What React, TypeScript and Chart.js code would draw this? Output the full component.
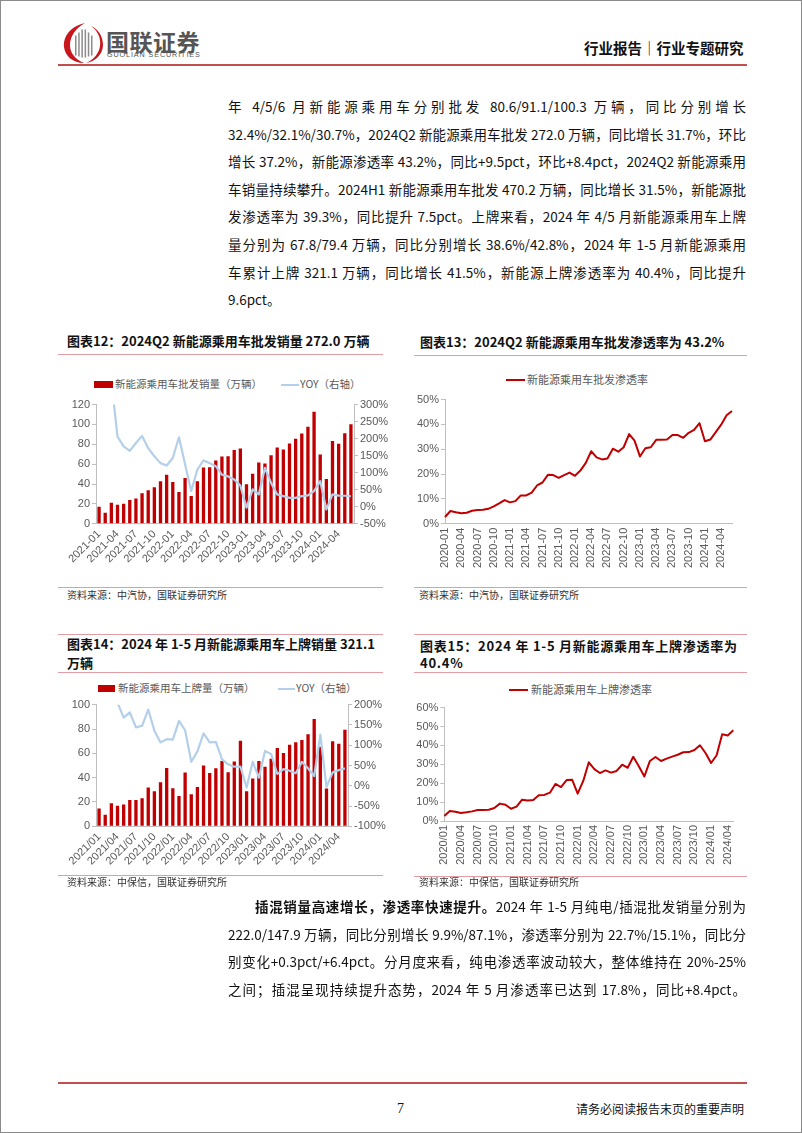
import React, { useEffect, useRef } from "react";
import { Chart, registerables } from "chart.js";

Chart.register(...registerables);

const LATIN = '"Liberation Sans", Arial, sans-serif';
const CJK = '"Noto Sans CJK SC", "Noto Sans", sans-serif';
const AXIS_GRAY = "#BFBFBF";
const TICK_COLOR = "#595959";
const BAR_RED = "#C00000";
const LINE_RED = "#C00000";
const YOY_BLUE = "#B4CFE9";
const RULE_PINK = "#E29CA3";
const HEAD_RED = "#C0504D";

function monthLabels(startYear: number, startMonth: number, count: number, sep: string): string[] {
  const out: string[] = [];
  for (let i = 0; i < count; i++) {
    const m = startMonth - 1 + i;
    const y = startYear + Math.floor(m / 12);
    const mm = (m % 12) + 1;
    out.push(`${y}${sep}${mm < 10 ? "0" + mm : mm}`);
  }
  return out;
}

// ---- 图表12: 批发销量 (2021-01 .. 2024-06)
const wholesaleMonths = monthLabels(2021, 1, 42, "-");
const wholesaleVolume = [
  17, 11, 21, 19, 20, 24, 25.5, 30.7, 33.7, 36.7, 42.7, 49.3,
  42, 32, 46, 28, 42.7, 56.7, 57, 63.7, 67.7, 68, 74.3, 75.7,
  39.7, 50.3, 61.7, 60.7, 69, 76.7, 74.7, 80.7, 85.7, 91, 97.7, 112.7,
  69.7, 45, 83.3, 80.6, 91.1, 100.3,
];
const wholesaleYoy = [
  500, 650, 370, 206, 177, 164, 187, 208, 172, 148, 128, 121,
  143, 204, 125, 46, 109, 136, 128, 119, 94, 89, 80, 62,
  -3, 51, 36, 114, 70, 36, 31, 26, 26, 31, 33, 46,
  75, -8, 36, 32.4, 32.1, 30.7,
];

// ---- 图表13: 批发渗透率 (2020-01 .. 2024-06)
const wholesalePenMonths = monthLabels(2020, 1, 54, "-");
const wholesalePenetration = [
  2.7, 5.1, 4.6, 4.2, 4.4, 5.2, 5.5, 5.6, 6.0, 7.0, 8.2, 9.5,
  8.6, 9.1, 11.4, 11.4, 12.5, 15.4, 16.6, 19.7, 19.6, 18.5, 19.6, 20.6,
  19.3, 21.4, 24.5, 29.2, 26.7, 25.9, 26.3, 30.2, 29.0, 30.8, 36.1, 33.5,
  27.1, 30.4, 30.8, 33.8, 33.8, 33.9, 35.7, 35.7, 34.6, 36.6, 37.8, 40.5,
  33.2, 33.9, 36.9, 39.9, 43.7, 45.4,
];

// ---- 图表14: 上牌量 (2021/01 .. 2024/05)
const regMonths = monthLabels(2021, 1, 41, "/");
const regVolume = [
  14.6, 9.6, 19, 16.8, 17.9, 21.7, 21.7, 23, 32, 28.8, 36.3, 48,
  31.3, 25, 44.2, 26.4, 32.4, 50, 43.9, 47.8, 53.8, 44.5, 53.3, 70.3,
  28.8, 39.3, 53.6, 48.9, 55.5, 64.3, 60.2, 67, 69.2, 70.9, 75.8, 88.2,
  65.4, 31, 70, 67.8, 79.4,
];
const regYoy = [
  380, 750, 300, 205, 168, 181, 144, 148, 188, 136, 107, 115,
  114, 160, 137, 59, 85, 129, 107, 108, 65, 53, 47, 47,
  -4, 59, 20, 86, 78, 29, 41, 37, 31, 59, 43, 24,
  126, -3, 33, 38.6, 42.8,
];

// ---- 图表15: 上牌渗透率 (2020/01 .. 2024/05)
const regPenMonths = monthLabels(2020, 1, 53, "/");
const regPenetration = [
  2.6, 5.3, 4.9, 4.2, 4.6, 5.1, 5.8, 5.8, 6.0, 6.9, 9.2, 8.6,
  6.5, 7.6, 11.3, 10.8, 11.1, 13.6, 13.8, 15.0, 19.6, 18.0, 21.7, 21.9,
  14.5, 21.2, 31.1, 27.5, 25.4, 26.8, 25.6, 26.5, 29.8, 28.2, 34.0, 29.0,
  23.6, 31.8, 33.9, 31.8, 33.0, 34.1, 35.1, 36.4, 36.5, 37.6, 40.1, 36.0,
  30.7, 34.8, 45.9, 45.3, 48.0,
];

// ---- text
const para1Lines = [
  "年 4/5/6 月新能源乘用车分别批发 80.6/91.1/100.3 万辆，同比分别增长",
  "32.4%/32.1%/30.7%，2024Q2 新能源乘用车批发 272.0 万辆，同比增长 31.7%，环比",
  "增长 37.2%，新能源渗透率 43.2%，同比+9.5pct，环比+8.4pct，2024Q2 新能源乘用",
  "车销量持续攀升。2024H1 新能源乘用车批发 470.2 万辆，同比增长 31.5%，新能源批",
  "发渗透率为 39.3%，同比提升 7.5pct。上牌来看，2024 年 4/5 月新能源乘用车上牌",
  "量分别为 67.8/79.4 万辆，同比分别增长 38.6%/42.8%，2024 年 1-5 月新能源乘用",
  "车累计上牌 321.1 万辆，同比增长 41.5%，新能源上牌渗透率为 40.4%，同比提升",
  "9.6pct。",
];
const para2Bold = "插混销量高速增长，渗透率快速提升。";
const para2Lines = [
  "2024 年 1-5 月纯电/插混批发销量分别为",
  "222.0/147.9 万辆，同比分别增长 9.9%/87.1%，渗透率分别为 22.7%/15.1%，同比分",
  "别变化+0.3pct/+6.4pct。分月度来看，纯电渗透率波动较大，整体维持在 20%-25%",
  "之间；插混呈现持续提升态势，2024 年 5 月渗透率已达到 17.8%，同比+8.4pct。",
];

type Dims = { padTop: number; padRight: number; yWidth: number; y1Width: number; xHeight: number };

const tickFont = { family: LATIN, size: 11 };

function comboConfig(
  labels: string[], bars: number[], yoy: number[],
  leftMax: number, leftStep: number, rMin: number, rMax: number, rStep: number, d: Dims
): any {
  return {
    type: "bar",
    data: {
      labels,
      datasets: [
        { type: "line", data: yoy, yAxisID: "y1", borderColor: YOY_BLUE, borderWidth: 2.2, pointRadius: 0, tension: 0, order: 0, clip: 0, borderJoinStyle: "round" },
        { type: "bar", data: bars, yAxisID: "y", backgroundColor: BAR_RED, barPercentage: 0.6, categoryPercentage: 0.9, order: 1 },
      ],
    },
    options: {
      responsive: false, animation: false, maintainAspectRatio: false,
      layout: { padding: { top: d.padTop, right: d.padRight, left: 0, bottom: 0 } },
      plugins: { legend: { display: false }, tooltip: { enabled: false }, title: { display: false } },
      scales: {
        x: {
          grid: { display: false, drawTicks: false },
          border: { display: true, color: AXIS_GRAY },
          ticks: { autoSkip: false, maxRotation: 45, minRotation: 45, padding: 4, color: TICK_COLOR, font: tickFont,
            callback: (_v: any, i: number) => (i % 3 === 0 ? labels[i] : "") },
          afterFit: (s: any) => { s.height = d.xHeight; },
        },
        y: {
          position: "left", min: 0, max: leftMax,
          ticks: { stepSize: leftStep, color: TICK_COLOR, font: tickFont, padding: 2 },
          grid: { drawOnChartArea: false, drawTicks: true, tickLength: 4, color: AXIS_GRAY },
          border: { display: true, color: AXIS_GRAY },
          afterFit: (s: any) => { s.width = d.yWidth; },
        },
        y1: {
          position: "right", min: rMin, max: rMax,
          ticks: { stepSize: rStep, color: TICK_COLOR, font: tickFont, padding: 2, callback: (v: any) => v + "%" },
          grid: { drawOnChartArea: false, drawTicks: true, tickLength: 4, color: AXIS_GRAY },
          border: { display: true, color: AXIS_GRAY },
          afterFit: (s: any) => { s.width = d.y1Width; },
        },
      },
    },
  };
}

function lineConfig(labels: string[], values: number[], yMax: number, d: Dims): any {
  return {
    type: "line",
    data: {
      labels,
      datasets: [
        { data: values, borderColor: LINE_RED, borderWidth: 2, pointRadius: 0, tension: 0, fill: false, borderJoinStyle: "round" },
      ],
    },
    options: {
      responsive: false, animation: false, maintainAspectRatio: false,
      layout: { padding: { top: d.padTop, right: d.padRight, left: 0, bottom: 0 } },
      plugins: { legend: { display: false }, tooltip: { enabled: false }, title: { display: false } },
      scales: {
        x: {
          offset: false,
          grid: { display: false, drawTicks: false },
          border: { display: true, color: AXIS_GRAY },
          ticks: { autoSkip: false, maxRotation: 90, minRotation: 90, padding: 4, color: TICK_COLOR, font: tickFont,
            callback: (_v: any, i: number) => (i % 3 === 0 ? labels[i] : "") },
          afterFit: (s: any) => { s.height = d.xHeight; },
        },
        y: {
          min: 0, max: yMax,
          ticks: { stepSize: 10, color: TICK_COLOR, font: tickFont, padding: 2, callback: (v: any) => v + "%" },
          grid: { drawOnChartArea: false, drawTicks: true, tickLength: 4, color: AXIS_GRAY },
          border: { display: true, color: AXIS_GRAY },
          afterFit: (s: any) => { s.width = d.yWidth; },
        },
      },
    },
  };
}

function ChartBox({ left, top, width, height, make }: { left: number; top: number; width: number; height: number; make: () => any }) {
  const ref = useRef<HTMLCanvasElement>(null);
  useEffect(() => {
    const chart = new Chart(ref.current as HTMLCanvasElement, make());
    return () => chart.destroy();
  }, []);
  return (
    <canvas ref={ref} width={width} height={height}
      style={{ position: "absolute", left, top, width, height, display: "block" }} />
  );
}

function Txt({ x, y, size, children, weight = 400, color = "#000", family = CJK, spacing = 0 }: any) {
  return (
    <div style={{ position: "absolute", left: x, top: y - size * 0.7, height: size * 1.4, lineHeight: `${size * 1.4}px`,
      fontSize: size, fontWeight: weight, color, fontFamily: family, whiteSpace: "nowrap", letterSpacing: spacing }}>
      {children}
    </div>
  );
}

function Rule({ x1, x2, y, color = RULE_PINK, h = 1 }: any) {
  return <div style={{ position: "absolute", left: x1, top: y, width: x2 - x1, height: h, background: color }} />;
}

function JLine({ x, y, w, children, last = false }: any) {
  return (
    <div style={{ position: "absolute", left: x, top: y - 11, width: w, height: 22, lineHeight: "22px",
      fontSize: 13.5, fontFamily: CJK, color: "#111", whiteSpace: "nowrap",
      textAlign: last ? "left" : "justify", textAlignLast: last ? "left" : "justify" } as any}>
      {children}
    </div>
  );
}

function Logo() {
  const bars = [0, 1, 2, 3, 4, 5];
  return (
    <svg style={{ position: "absolute", left: 60, top: 21 }} width="44" height="42" viewBox="0 0 44 42">
      <path d="M24 1 C10 4 2 14 3 25 C4 34 12 41 23 41 C14 37 9 31 9 23 C9 14 15 6 24 1 Z" fill="#C8161D" />
      {bars.map((i) => (
        <rect key={i} x={14 + i * 3.2} y={6 + Math.abs(2.5 - i) * 3} width={1.5} height={30 - Math.abs(2.5 - i) * 4} fill="#8C8C8C" />
      ))}
      <path d="M30 4 C37 9 40 16 39 24 C38 32 32 38 25 41 C33 40 42 33 42 23 C42 14 37 7 30 4 Z" fill="#C8161D" />
    </svg>
  );
}

export default function App() {
  const p1y0 = 105;
  const step = 27.6;
  return (
    <div style={{ position: "absolute", left: 0, top: 0, width: 802, height: 1133, background: "#fff",
      overflow: "hidden", boxSizing: "border-box", border: "1px solid #8a8a8a", fontFamily: CJK }}>
      {/* header */}
      <Logo />
      <Txt x={105} y={40} size={23} weight={700} color="#555" spacing={0.5}>国联证券</Txt>
      <Txt x={106} y={54.5} size={7.2} family={LATIN} color="#555" spacing={0.9}>GUOLIAN SECURITIES</Txt>
      <Txt x={583} y={47} size={14.5} weight={700} color="#111">行业报告｜行业专题研究</Txt>
      <Rule x1={57} x2={746} y={63} color={HEAD_RED} h={2} />

      {/* paragraph 1 */}
      {para1Lines.map((t, i) => (
        <JLine key={i} x={227} y={p1y0 + i * step} w={518} last={i === para1Lines.length - 1}>{t}</JLine>
      ))}

      {/* chart 12 */}
      <Txt x={66} y={340} size={13} weight={700} color="#111">图表12：2024Q2 新能源乘用车批发销量 272.0 万辆</Txt>
      <Rule x1={57} x2={382} y={352.5} />
      <div style={{ position: "absolute", left: 93, top: 380, width: 19, height: 7, background: BAR_RED }} />
      <Txt x={114} y={383.5} size={10.5} color="#595959">新能源乘用车批发销量（万辆）</Txt>
      <div style={{ position: "absolute", left: 280, top: 382.5, width: 18, height: 2, background: YOY_BLUE }} />
      <Txt x={299} y={383.5} size={10.5} color="#595959">YOY（右轴）</Txt>
      <ChartBox left={57} top={395} width={340} height={180}
        make={() => comboConfig(wholesaleMonths, wholesaleVolume, wholesaleYoy, 120, 20, -50, 300, 50,
          { padTop: 7.7, padRight: 0, yWidth: 38, y1Width: 44, xHeight: 52.3 })} />
      <Rule x1={57} x2={382} y={585.5} />
      <Txt x={66} y={593.5} size={10} color="#333">资料来源：中汽协，国联证券研究所</Txt>

      {/* chart 13 */}
      <Txt x={419} y={341} size={13} weight={700} color="#111">图表13：2024Q2 新能源乘用车批发渗透率为 43.2%</Txt>
      <Rule x1={413} x2={746} y={353.5} />
      <div style={{ position: "absolute", left: 505, top: 377.5, width: 19, height: 2, background: LINE_RED }} />
      <Txt x={526} y={378.5} size={11} color="#595959">新能源乘用车批发渗透率</Txt>
      <ChartBox left={405} top={390} width={345} height={185}
        make={() => lineConfig(wholesalePenMonths, wholesalePenetration, 50,
          { padTop: 8, padRight: 19, yWidth: 39, y1Width: 0, xHeight: 52.3 })} />
      <Rule x1={413} x2={746} y={585.5} />
      <Txt x={418} y={594} size={10} color="#333">资料来源：中汽协，国联证券研究所</Txt>

      {/* chart 14 */}
      <Rule x1={57} x2={382} y={632.5} />
      <Txt x={66} y={643} size={13} weight={700} color="#111">图表14：2024 年 1-5 月新能源乘用车上牌销量 321.1</Txt>
      <Txt x={66} y={662} size={13} weight={700} color="#111">万辆</Txt>
      <Rule x1={57} x2={382} y={670.5} />
      <div style={{ position: "absolute", left: 97, top: 684, width: 17, height: 7, background: BAR_RED }} />
      <Txt x={117} y={687.5} size={10.5} color="#595959">新能源乘用车上牌量（万辆）</Txt>
      <div style={{ position: "absolute", left: 277, top: 686.5, width: 17, height: 2, background: YOY_BLUE }} />
      <Txt x={295} y={687.5} size={10.5} color="#595959">YOY（右轴）</Txt>
      <ChartBox left={57} top={695} width={340} height={180}
        make={() => comboConfig(regMonths, regVolume, regYoy, 100, 20, -100, 200, 50,
          { padTop: 8.7, padRight: 0, yWidth: 38, y1Width: 50, xHeight: 49.7 })} />
      <Rule x1={57} x2={382} y={873.5} />
      <Txt x={66} y={880.5} size={10} color="#333">资料来源：中保信，国联证券研究所</Txt>

      {/* chart 15 */}
      <Rule x1={413} x2={746} y={632.5} />
      <Txt x={419} y={645} size={13} weight={700} color="#111" spacing={0.75}>图表15：2024 年 1-5 月新能源乘用车上牌渗透率为</Txt>
      <Txt x={419} y={662} size={13} weight={700} color="#111" spacing={0.75}>40.4%</Txt>
      <Rule x1={413} x2={746} y={670.5} />
      <div style={{ position: "absolute", left: 508, top: 687.5, width: 19, height: 2, background: LINE_RED }} />
      <Txt x={530} y={688.5} size={11} color="#595959">新能源乘用车上牌渗透率</Txt>
      <ChartBox left={405} top={698} width={345} height={177}
        make={() => lineConfig(regPenMonths, regPenetration, 60,
          { padTop: 8.7, padRight: 17.7, yWidth: 38.3, y1Width: 0, xHeight: 55 })} />
      <Rule x1={413} x2={746} y={874.5} />
      <Txt x={418} y={881} size={10} color="#333">资料来源：中保信，国联证券研究所</Txt>

      {/* paragraph 2 */}
      <div style={{ position: "absolute", left: 254, top: 905 - 11, width: 491, height: 22, lineHeight: "22px",
        fontSize: 13.5, fontFamily: CJK, color: "#111", whiteSpace: "nowrap", textAlign: "justify", textAlignLast: "justify" } as any}>
        <b>{para2Bold}</b>{para2Lines[0]}
      </div>
      {para2Lines.slice(1).map((t, i) => (
        <JLine key={i} x={227} y={905 + (i + 1) * step} w={518}>{t}</JLine>
      ))}

      {/* footer */}
      <Rule x1={57} x2={746} y={1081} color={HEAD_RED} h={2} />
      <Txt x={396} y={1108} size={14} family='"Liberation Serif", serif' color="#111">7</Txt>
      <Txt x={575} y={1108} size={12} color="#111">请务必阅读报告末页的重要声明</Txt>
    </div>
  );
}
